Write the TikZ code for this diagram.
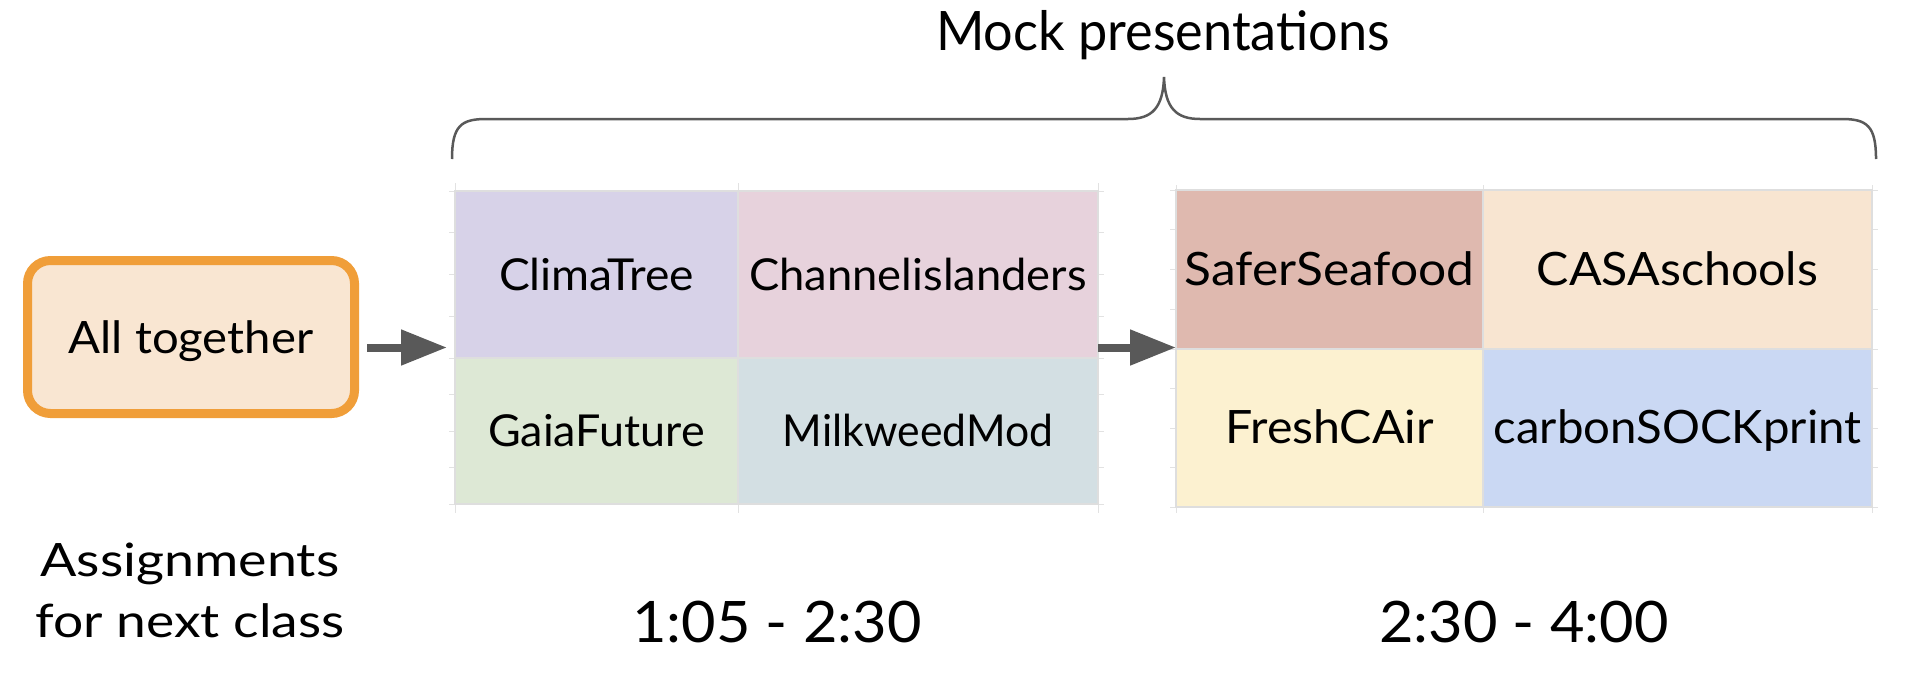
\documentclass[tikz,border=0pt]{standalone}
\usepackage{fontspec}
\setmainfont{Lato}
\usetikzlibrary{arrows.meta,calc}
\definecolor{boxfill}{HTML}{F9E6D2}
\definecolor{boxdraw}{HTML}{F09E39}
\definecolor{arrowgray}{HTML}{595959}
\definecolor{gridgray}{HTML}{E2E2E2}
\definecolor{cpurple}{HTML}{D7D2E8}
\definecolor{cpink}{HTML}{E7D2DC}
\definecolor{cgreen}{HTML}{DDE8D5}
\definecolor{ccyan}{HTML}{D3DFE3}
\definecolor{cred}{HTML}{DFB9AF}
\definecolor{corange}{HTML}{F8E5D1}
\definecolor{cyellow}{HTML}{FCF1D0}
\definecolor{cblue}{HTML}{CAD8F3}
\begin{document}
\begin{tikzpicture}[x=0.5pt,y=-0.5pt,
  cellbox/.style={draw=black!13, line width=0.6pt, inner sep=0pt, outer sep=0pt,
    text height=15.75pt, text depth=0pt},
  wa/.style={font=\fontsize{22}{26}\selectfont\addfontfeature{FakeStretch=#1}},
  wb/.style={font=\fontsize{23}{27}\selectfont\addfontfeature{FakeStretch=#1}},
  frame/.style={inner sep=0pt, outer sep=0pt},
  flow/.style={draw=arrowgray, line width=4pt, -{Triangle[length=23pt,width=17pt]}},
  gridline/.style={draw=gridgray, line width=0.5pt},
  bracestyle/.style={draw=arrowgray, line width=1.25pt}
]
\useasboundingbox (0,0) rectangle (1910,680);

% faint spreadsheet grid lines behind the cells
\foreach \x in {455,738,1098} \draw[gridline] (\x,183) -- (\x,513);
\foreach \y in {191,232.75,274.5,316.25,358,394.5,431,467.5,504} \draw[gridline] (449,\y) -- (1104,\y);
\foreach \x in {1176,1483,1872} \draw[gridline] (\x,185) -- (\x,513);
\foreach \y in {190,229.75,269.5,309.25,349,388.5,428,467.5,507} \draw[gridline] (1170,\y) -- (1878,\y);

% box
\node[draw=boxdraw, fill=boxfill, line width=4.5pt, rounded corners=11.5pt,
  minimum width=163.5pt, minimum height=76.5pt, inner sep=0pt,
  text height=16pt, text depth=0pt,
  font=\fontsize{22.3}{26}\selectfont\addfontfeature{FakeStretch=1.06}] (box) at (191,337) {All together};

% grid frames
\node[frame, minimum width=321.5pt, minimum height=156.5pt] (g1) at (776.5,347.5) {};
\node[frame, minimum width=348pt, minimum height=158.5pt] (g2) at (1524,348.5) {};

% cells, first block
\node[cellbox, wa=1.05, fill=cpurple, minimum width=141.5pt, minimum height=83.5pt] (climatree) at (596.5,274.5) {ClimaTree};
\node[cellbox, wa=1.03, fill=cpink, minimum width=180pt, minimum height=83.5pt] (channel) at (918,274.5) {Channelislanders};
\node[cellbox, wa=1.02, fill=cgreen, minimum width=141.5pt, minimum height=73pt] (gaia) at (596.5,431) {GaiaFuture};
\node[cellbox, wa=0.97, fill=ccyan, minimum width=180pt, minimum height=73pt] (milkweed) at (918,431) {MilkweedMod};

% cells, second block
\node[cellbox, wb=1.08, fill=cred, minimum width=153.5pt, minimum height=79.5pt] (safer) at (1329.5,269.5) {SaferSeafood};
\node[cellbox, wb=1.05, fill=corange, minimum width=194.5pt, minimum height=79.5pt] (casa) at (1677.5,269.5) {CASAschools};
\node[cellbox, wb=1.05, fill=cyellow, minimum width=153.5pt, minimum height=79pt] (fresh) at (1329.5,428) {FreshCAir};
\node[cellbox, wb=1.03, fill=cblue, minimum width=194.5pt, minimum height=79pt] (carbon) at (1677.5,428) {carbonSOCKprint};

% arrows
\draw[flow] ($(box.east |- g1.west)+(8,0)$) -- ($(g1.west)+(-8,0)$);
\draw[flow] (g1.east) -- (g1.east -| g2.west);

% brace
\draw[bracestyle] (452,159) .. controls (452,126) and (461,119) .. (486,119) -- (1128,119)
  .. controls (1152,119) and (1163,108) .. (1164,77)
  .. controls (1165,108) and (1176,119) .. (1200,119) -- (1842,119)
  .. controls (1867,119) and (1876,126) .. (1876,159);

% texts
\node[anchor=base, inner sep=0pt, font=\fontsize{27.2}{32}\selectfont\addfontfeature{FakeStretch=0.96}] (mock) at (1163,50) {Mock presentations};
\node[anchor=base, inner sep=0pt, font=\fontsize{23}{28}\selectfont\addfontfeature{FakeStretch=1.17}] (asg1) at (190,576) {Assignments};
\node[anchor=base, inner sep=0pt, font=\fontsize{23}{28}\selectfont\addfontfeature{FakeStretch=1.16}] (asg2) at (190,637) {for next class};
\node[anchor=base, inner sep=0pt, font=\fontsize{28.6}{34}\selectfont\addfontfeature{FakeStretch=1.04}] (t1) at (777,642) {1:05 - 2:30};
\node[anchor=base, inner sep=0pt, font=\fontsize{28.6}{34}\selectfont\addfontfeature{FakeStretch=1.04}] (t2) at (1524,642) {2:30 - 4:00};
\end{tikzpicture}
\end{document}
